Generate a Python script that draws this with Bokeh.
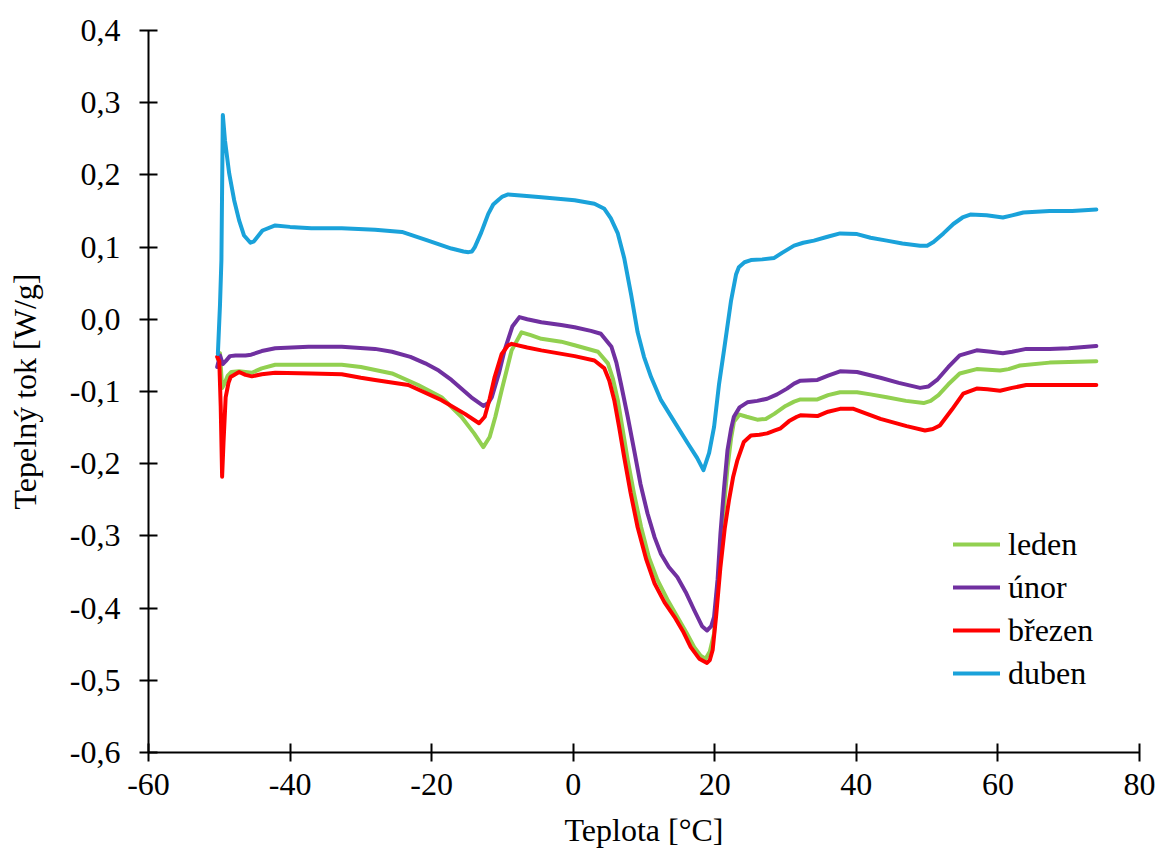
from bokeh.plotting import figure
from bokeh.models import (Range1d, FixedTicker, CustomJSTickFormatter, Legend, LegendItem)
from bokeh.embed import file_html
from bokeh.resources import INLINE

# ---- data ----
leden_x = [-50.2, -49.9, -49.6, -49.3, -48.8, -48.3, -47.2, -46.3, -45.4, -44.0, -42.1, -37.0, -32.7,
           -30.0, -25.6, -21.9, -18.6, -15.8, -14.0, -12.7, -11.8, -11.0, -10.1, -8.7, -7.3, -6.0,
           -4.5, -1.7, 0.2, 3.5, 4.9, 5.6, 6.3, 7.7, 8.6, 9.6, 10.7, 11.9, 13.3, 14.7, 16.0, 17.1,
           18.0, 18.7, 19.3, 19.9, 20.3, 20.8, 21.3, 21.8, 22.3, 22.7, 23.5, 24.5, 26.0, 27.2, 28.4,
           30.0, 31.2, 32.1, 34.5, 36.0, 37.7, 40.1, 42.0, 44.3, 47.0, 49.5, 50.5, 51.6, 53.0, 54.6,
           57.0, 60.3, 61.5, 63.1, 67.3, 70.0, 73.9]
leden_y = [-0.055, -0.047, -0.095, -0.090, -0.078, -0.073, -0.072, -0.073, -0.074, -0.068, -0.063, -0.063, -0.063,
           -0.066, -0.075, -0.091, -0.108, -0.135, -0.158, -0.177, -0.163, -0.135, -0.098, -0.043, -0.018, -0.022,
           -0.027, -0.031, -0.036, -0.045, -0.061, -0.082, -0.112, -0.195, -0.242, -0.288, -0.330, -0.361, -0.388, -0.412, -0.434, -0.454,
           -0.466, -0.470, -0.460, -0.435, -0.380, -0.320, -0.260, -0.205, -0.165, -0.142, -0.132, -0.135, -0.139, -0.138, -0.131,
           -0.120, -0.114, -0.111, -0.111, -0.105, -0.101, -0.101, -0.104, -0.108, -0.113, -0.116, -0.113, -0.105, -0.090, -0.075,
           -0.069, -0.071, -0.069, -0.064, -0.060, -0.059, -0.058]

unor_x = [-50.3, -49.9, -49.5, -49.1, -48.5, -47.7, -46.3, -45.5, -44.0, -42.1, -37.4, -32.7, -28.0,
          -25.6, -23.0, -20.9, -19.0, -17.2, -14.4, -12.7, -12.0, -11.5, -10.5, -9.7, -8.6, -7.6, -6.5,
          -4.5, -1.7, 0.2, 2.5, 3.9, 5.4, 6.1, 6.8, 7.7, 8.6, 9.5, 10.5, 11.5, 12.4, 13.5, 14.7, 15.9,
          17.1, 18.2, 18.9, 19.5, 19.9, 20.4, 20.8, 21.3, 21.8, 22.3, 22.7, 23.5, 24.6, 26.0, 27.4,
          28.8, 30.2, 31.2, 32.1, 34.5, 36.0, 37.7, 40.1, 43.4, 46.0, 49.0, 50.2, 51.4, 53.0, 54.6,
          57.0, 59.0, 60.7, 62.0, 64.0, 67.3, 70.0, 73.9]
unor_y = [-0.066, -0.050, -0.062, -0.058, -0.051, -0.050, -0.050, -0.049, -0.044, -0.040, -0.038, -0.038, -0.041,
          -0.045, -0.052, -0.061, -0.071, -0.084, -0.108, -0.120, -0.116, -0.108, -0.075, -0.043, -0.010, 0.003, 0.000,
          -0.004, -0.008, -0.011, -0.016, -0.020, -0.038, -0.060, -0.092, -0.135, -0.181, -0.228, -0.269, -0.302, -0.325, -0.343, -0.357, -0.378,
          -0.403, -0.425, -0.431, -0.425, -0.412, -0.360, -0.297, -0.235, -0.181, -0.152, -0.135, -0.122, -0.115, -0.113, -0.110,
          -0.104, -0.096, -0.089, -0.085, -0.084, -0.078, -0.072, -0.073, -0.081, -0.088, -0.095, -0.093, -0.084, -0.066, -0.050,
          -0.043, -0.045, -0.047, -0.045, -0.041, -0.041, -0.040, -0.037]

brezen_x = [-50.3, -50.0, -49.8, -49.6, -49.4, -49.1, -48.7, -48.4, -47.2, -46.3, -45.4, -44.0, -42.1,
            -37.0, -32.7, -30.0, -28.0, -23.3, -18.6, -15.3, -13.3, -12.5, -11.8, -11.1, -10.1, -9.2,
            -8.7, -6.5, -4.5, 0.2, 3.0, 4.4, 5.1, 5.8, 6.5, 7.2, 8.1, 9.1, 10.3, 11.5, 12.9, 14.3, 15.5,
            16.6, 17.8, 18.9, 19.3, 19.7, 20.2, 20.8, 21.4, 22.0, 22.6, 23.2, 24.1, 25.1, 26.3, 27.4,
            28.5, 29.3, 30.5, 31.6, 32.1, 34.5, 36.0, 37.7, 39.6, 41.5, 43.4, 47.1, 49.7, 50.8, 51.8,
            53.5, 55.1, 57.0, 58.5, 60.3, 62.0, 64.0, 68.0, 73.9]
brezen_y = [-0.052, -0.058, -0.120, -0.218, -0.170, -0.108, -0.088, -0.080, -0.073, -0.077, -0.079, -0.076, -0.074,
            -0.075, -0.076, -0.081, -0.084, -0.091, -0.112, -0.131, -0.144, -0.135, -0.110, -0.080, -0.048, -0.036,
            -0.034, -0.039, -0.043, -0.051, -0.057, -0.068, -0.085, -0.112, -0.150, -0.191, -0.240, -0.288, -0.332, -0.366, -0.392, -0.412, -0.432,
            -0.454, -0.470, -0.476, -0.472, -0.458, -0.410, -0.343, -0.290, -0.251, -0.218, -0.195, -0.170, -0.161, -0.160, -0.158,
            -0.154, -0.151, -0.141, -0.135, -0.133, -0.134, -0.128, -0.124, -0.124, -0.131, -0.138, -0.148, -0.154, -0.152, -0.147,
            -0.125, -0.103, -0.096, -0.097, -0.099, -0.095, -0.091, -0.091, -0.091]

duben_x = [-50.2, -49.9, -49.7, -49.5, -49.2, -48.6, -47.9, -47.2, -46.5, -45.6, -45.1, -43.9, -42.1,
           -40.0, -37.0, -32.7, -28.0, -24.2, -20.5, -17.2, -15.5, -14.8, -14.3, -13.9, -13.0, -12.5,
           -12.0, -11.3, -10.5, -10.0, -9.2, -7.0, -4.5, 0.2, 3.0, 4.4, 5.3, 6.3, 7.2, 8.2, 9.1, 10.0,
           11.0, 12.4, 14.3, 16.2, 17.5, 18.4, 19.2, 19.9, 20.6, 21.3, 22.3, 23.0, 23.4, 24.2, 25.1,
           26.7, 28.4, 29.5, 31.2, 32.5, 34.0, 35.8, 37.7, 40.1, 42.0, 44.3, 46.5, 49.0, 50.0, 50.9,
           52.3, 53.7, 55.0, 56.1, 58.4, 60.7, 62.0, 63.6, 67.3, 70.5, 73.9]
duben_y = [-0.048, 0.020, 0.082, 0.283, 0.248, 0.202, 0.165, 0.137, 0.116, 0.106, 0.108, 0.123, 0.130,
           0.128, 0.126, 0.126, 0.124, 0.121, 0.109, 0.098, 0.094, 0.093, 0.094, 0.100, 0.120, 0.133,
           0.146, 0.159, 0.166, 0.170, 0.173, 0.171, 0.169, 0.165, 0.160, 0.153, 0.140, 0.119, 0.085, 0.033, -0.018, -0.052,
           -0.080, -0.112, -0.142, -0.172, -0.192, -0.209, -0.185, -0.149, -0.090, -0.043, 0.026, 0.062, 0.072, 0.079, 0.082,
           0.083, 0.085, 0.092, 0.102, 0.106, 0.109, 0.114, 0.119, 0.118, 0.113, 0.109, 0.105, 0.102, 0.102, 0.107,
           0.119, 0.132, 0.141, 0.145, 0.144, 0.141, 0.144, 0.148, 0.150, 0.150, 0.152]

series_names = ["leden", "únor", "březen", "duben"]
series_colors = ["#92D050", "#7030A0", "#FF0000", "#1AA2DA"]
x_ticks = [-60, -40, -20, 0, 20, 40, 60, 80]
y_ticks = [-0.6, -0.5, -0.4, -0.3, -0.2, -0.1, 0.0, 0.1, 0.2, 0.3, 0.4]

FONT = "Liberation Serif"
FS = "32px"

p = figure(width=1157, height=850, output_backend="svg", toolbar_location=None,
           x_range=Range1d(-60, 80), y_range=Range1d(-0.6, 0.4),
           min_border_left=148, min_border_right=18, min_border_top=30, min_border_bottom=98)
p.outline_line_color = None
p.grid.visible = False
p.background_fill_color = "white"
p.border_fill_color = "white"

data = [(leden_x, leden_y), (unor_x, unor_y), (brezen_x, brezen_y), (duben_x, duben_y)]
renderers = []
for (xs, ys), c in zip(data, series_colors):
    r = p.line(xs, ys, line_color=c, line_width=4, line_join="round", line_cap="round")
    renderers.append(r)

for ax in (p.xaxis[0], p.yaxis[0]):
    ax.axis_line_color = "black"
    ax.axis_line_width = 2
    ax.major_tick_line_color = "black"
    ax.major_tick_line_width = 2
    ax.major_tick_in = 9
    ax.major_tick_out = 9
    ax.minor_tick_line_color = None
    ax.major_label_text_font = FONT
    ax.major_label_text_font_size = FS
    ax.major_label_text_color = "black"
    ax.axis_label_text_font = FONT
    ax.axis_label_text_font_size = FS
    ax.axis_label_text_font_style = "normal"
    ax.axis_label_text_color = "black"

p.xaxis[0].ticker = FixedTicker(ticks=x_ticks)
p.yaxis[0].ticker = FixedTicker(ticks=y_ticks)
p.xaxis[0].formatter = CustomJSTickFormatter(code="return String(Math.round(tick));")
p.yaxis[0].formatter = CustomJSTickFormatter(code="return tick.toFixed(1).replace('.', ',');")
p.xaxis[0].axis_label = "Teplota [°C]"
p.yaxis[0].axis_label = "Tepelný tok [W/g]"
p.xaxis[0].major_label_standoff = 12
p.yaxis[0].major_label_standoff = 19
p.xaxis[0].axis_label_standoff = 14
p.yaxis[0].axis_label_standoff = 24

legend = Legend(items=[LegendItem(label=n, renderers=[r]) for n, r in zip(series_names, renderers)],
                location=(805, 59), padding=0, margin=0, spacing=3,
                glyph_width=47, glyph_height=40, label_height=40, label_standoff=8,
                label_text_font=FONT, label_text_font_size=FS, label_text_color="black",
                border_line_color=None, background_fill_alpha=0)
p.add_layout(legend)

open("out.html", "w").write(file_html(p, INLINE))
